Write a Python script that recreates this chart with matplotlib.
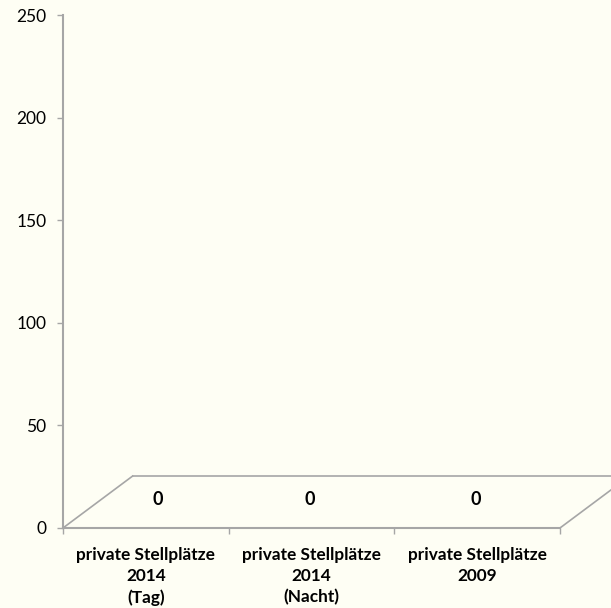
import matplotlib.pyplot as plt
import numpy as np

# parking counts per survey
categories = ['private Stellplätze\n2014\n(Tag)',
              'private Stellplätze\n2014\n(Nacht)',
              'private Stellplätze\n2009']
values = [0, 0, 0]
yticks = [0, 50, 100, 150, 200, 250]

bg = '#FEFEF4'
axis_grey = '#A6A6A6'
plt.rcParams['font.family'] = ['Lato', 'DejaVu Sans']

fig = plt.figure(figsize=(6.11, 6.08), dpi=100, facecolor=bg)
ax = fig.add_axes([0.1031, 0.1316, 0.8134, 0.8437])
ax.set_facecolor(bg)

n = len(categories)
x = np.arange(n) + 0.5
ax.bar(x, values, width=0.6, color='#4F81BD')

ax.set_xlim(0, n)
ax.set_ylim(0, 250)

# floor of the pseudo-3D plot area (depth offset in data units)
dx, dy = 0.42, 25.3
floor_kw = dict(color=axis_grey, lw=1.2, clip_on=False)
ax.plot([0, dx], [0, dy], **floor_kw)
ax.plot([dx, n + dx], [dy, dy], **floor_kw)
ax.plot([n, n + dx], [0, dy], **floor_kw)

# value labels sit slightly back on the floor
label_shift = [0.07, -0.01, -0.01]
for xi, v, s in zip(x, values, label_shift):
    ax.text(xi + s, v + 14, str(v), ha='center', va='center',
            fontsize=13, fontweight='bold', color='black')

for side in ['top', 'right']:
    ax.spines[side].set_visible(False)
for side in ['left', 'bottom']:
    ax.spines[side].set_color(axis_grey)
    ax.spines[side].set_linewidth(1.5)

ax.set_yticks(yticks)
ax.set_yticklabels([str(t) for t in yticks])
ax.tick_params(axis='y', length=4, width=1, color=axis_grey, pad=8,
               labelsize=12.5)

ax.set_xticks(np.arange(n + 1))
ax.set_xticklabels([])
ax.tick_params(axis='x', which='major', length=4, width=1, color=axis_grey)
ax.set_xticks(x, minor=True)
ax.set_xticklabels(categories, minor=True, fontweight='bold', fontsize=12.4,
                   linespacing=1.36)
ax.tick_params(axis='x', which='minor', length=0, pad=14)

fig.savefig('out.png', dpi=100, facecolor=bg)
